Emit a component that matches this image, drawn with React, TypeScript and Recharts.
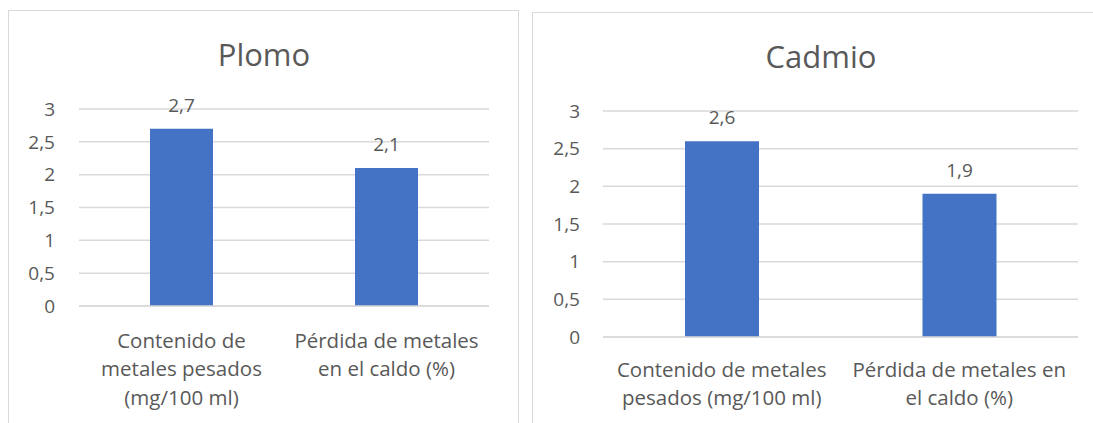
import React from 'react';
import { BarChart, Bar, XAxis, YAxis, CartesianGrid, LabelList } from 'recharts';

const titles = ['Plomo', 'Cadmio'];
const categoriesPlomo = ['Contenido de\nmetales pesados\n(mg/100 ml)', 'Pérdida de metales\nen el caldo (%)'];
const valuesPlomo = [2.7, 2.1];
const categoriesCadmio = ['Contenido de metales\npesados (mg/100 ml)', 'Pérdida de metales en\nel caldo (%)'];
const valuesCadmio = [2.6, 1.9];
const yTicks = [0, 0.5, 1, 1.5, 2, 2.5, 3];

const FONT = '"Open Sans", "Noto Sans", sans-serif';
const TEXT = '#595959';
const GRID = '#D9D9D9';
const BAR = '#4472C4';

const fmt = (v: any) => String(v).replace('.', ',');

const dataPlomo = categoriesPlomo.map((c, i) => ({ name: c, value: valuesPlomo[i] }));
const dataCadmio = categoriesCadmio.map((c, i) => ({ name: c, value: valuesCadmio[i] }));

const CatTick = (props: any) => {
  const { x, y, payload, dy0 } = props;
  const lines = String(payload.value).split('\n');
  return (
    <text x={x} y={y} textAnchor="middle" fill={TEXT} fontSize={20.5} fontFamily={FONT}>
      {lines.map((l, i) => (
        <tspan key={i} x={x} y={y + dy0 + i * 28.4}>{l}</tspan>
      ))}
    </text>
  );
};

type PanelProps = {
  left: number; top: number; width: number; height: number;
  chartW: number; chartH: number;
  title: string; titleX: number; titleY: number;
  data: { name: string; value: number }[];
  margin: { top: number; right: number; bottom: number; left: number };
  yWidth: number; yTickMargin: number; xHeight: number; barSize: number; catDy: number;
};

const Panel = (p: PanelProps) => (
  <div style={{ position: 'absolute', left: p.left, top: p.top, width: p.width, height: p.height, border: `1px solid ${GRID}`, boxSizing: 'border-box', background: '#fff' }}>
    <div style={{ position: 'absolute', left: p.titleX - 150, top: p.titleY, width: 300, textAlign: 'center', fontFamily: FONT, fontSize: 31, color: TEXT, lineHeight: '40px' }}>{p.title}</div>
    <div style={{ position: 'absolute', left: -1, top: -1 }}>
      <BarChart width={p.chartW} height={p.chartH} data={p.data} margin={p.margin}>
        <CartesianGrid vertical={false} stroke={GRID} strokeWidth={1.5} />
        <XAxis dataKey="name" axisLine={{ stroke: GRID, strokeWidth: 1.5 }} tickLine={false} tickSize={0} tickMargin={0} height={p.xHeight} interval={0} tick={<CatTick dy0={p.catDy} />} />
        <YAxis domain={[0, 3]} ticks={yTicks} width={p.yWidth} axisLine={false} tickLine={false} tickSize={0} tickMargin={p.yTickMargin} tickFormatter={fmt} tick={{ fill: TEXT, fontSize: 19, fontFamily: FONT }} interval={0} />
        <Bar dataKey="value" fill={BAR} barSize={p.barSize} isAnimationActive={false}>
          <LabelList dataKey="value" position="top" offset={17} formatter={fmt} fill={TEXT} fontSize={19} fontFamily={FONT} />
        </Bar>
      </BarChart>
    </div>
  </div>
);

export default function App() {
  return (
    <div style={{ position: 'absolute', left: 0, top: 0, width: 1093, height: 423, background: '#fff', overflow: 'hidden' }}>
      <Panel left={8} top={10} width={511} height={430} chartW={510} chartH={415}
        title={titles[0]} titleX={255} titleY={23}
        data={dataPlomo}
        margin={{ top: 99, right: 29, bottom: 19, left: 0 }}
        yWidth={71} yTickMargin={24} xHeight={100} barSize={63} catDy={42} />
      <Panel left={532} top={12} width={570} height={430} chartW={561} chartH={411}
        title={titles[1]} titleX={288} titleY={23}
        data={dataCadmio}
        margin={{ top: 99, right: 15, bottom: 16, left: 0 }}
        yWidth={71} yTickMargin={23} xHeight={70} barSize={74} catDy={40} />
    </div>
  );
}
